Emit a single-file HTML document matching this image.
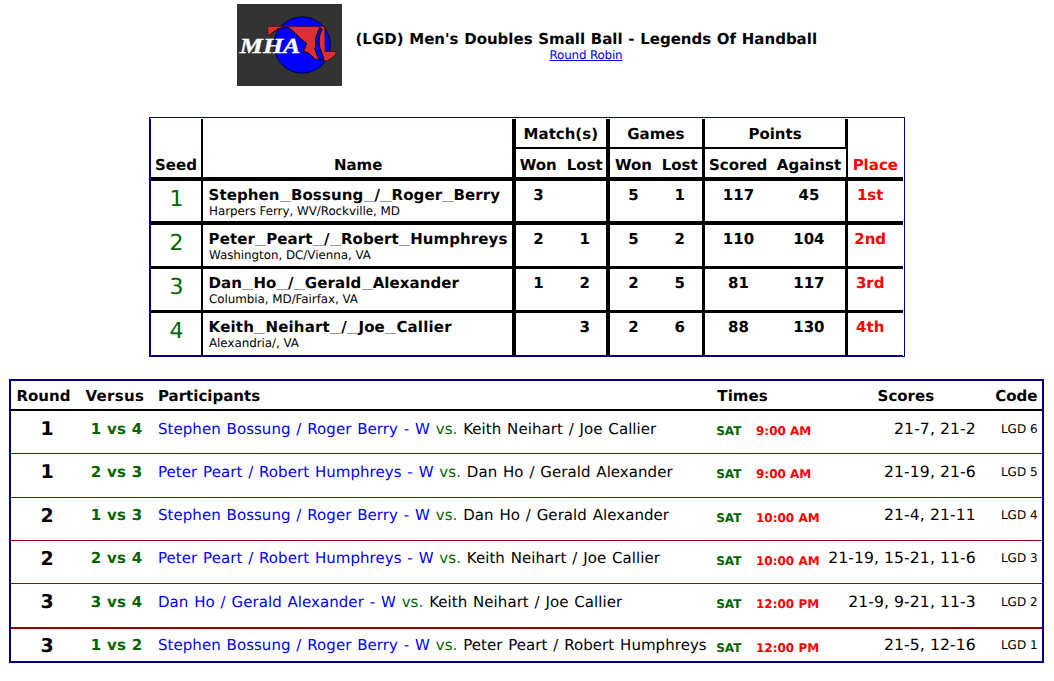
<!DOCTYPE html>
<html><head><meta charset="utf-8"><title>(LGD) Men's Doubles Small Ball - Legends Of Handball</title>
<style>
html,body{margin:0;padding:0;background:#fff;overflow:hidden;}
body{width:1054px;height:681px;position:relative;overflow:hidden;font-family:'DejaVu Sans', 'Liberation Sans', sans-serif;text-rendering:geometricPrecision;}
.b{position:absolute;}
.t{position:absolute;white-space:nowrap;}
.u{display:inline-block;width:11.4px;color:transparent;position:relative;}
.u::after{content:"";position:absolute;left:0.3px;right:0;bottom:1px;height:1px;background:#9a9a9a;}
</style></head><body>
<svg class="b" style="left:237px;top:4px" width="105" height="82" viewBox="0 0 105 82">
<rect x="0" y="0" width="105" height="82" fill="#333333"/>
<circle cx="65.2" cy="41" r="28.2" fill="#0000ff" stroke="#00002a" stroke-width="1"/>
<polygon fill="#dd3035" stroke="#3a0000" stroke-width="0.6" stroke-linejoin="round" points="30.7,22.4 87.6,22.4 88.1,47.5 98.8,47.5 98.7,50.2 94.8,54.1 89.5,57 86.8,56.6 84,55.6 80.4,55.2 77.5,54.6 73.9,51 70.3,48.6 66.3,47.2 67.6,45 68.1,43.4 69.5,39.8 67.4,37.6 64.5,35.5 62.6,33.6 60.9,31.9 58,29 54.4,25.4 50.8,23.2 45.7,23.6 40.7,25 35.7,28.6 31,31.5"/>
<polyline fill="none" stroke="#1a0008" stroke-width="0.9" stroke-linejoin="round" points="35.7,28.6 38,27.2 40.7,25 43,24.6 45.7,23.6 48,23.8 50.8,23.2 52.5,24.6 54.4,25.4 56,27.4 58,29 59.6,30.2 60.9,31.9 62.6,33.6 64.5,35.5 66,36.4 67.4,37.6 68.6,38.4 69.5,39.8 68.4,41.6 68.1,43.4 67.2,45 66.3,47.2 68.4,47.6 70.3,48.6 72,49.6 73.9,51 75.6,52.8 77.5,54.6"/>
<polygon fill="#0000ff" stroke="#14000a" stroke-width="1.1" stroke-linejoin="round" points="83,23.6 85,25.4 83.6,28.5 82.6,31.9 82.2,35 82,37.6 82.4,40.5 82.8,43.4 83.6,46 84.6,48.4 85.6,51 86.3,53.5 86.8,56.4 84.6,56 81.8,54.4 80.6,52.2 79.6,49.9 78.6,47.2 78,44.8 78.6,42.2 79,39.8 78.6,37.2 78.6,34.7 79.2,32.4 80,30.4 81.2,27.6 82,25.2"/>
<text x="2.8" y="48.9" fill="#ffffff" font-family="'Liberation Serif', serif" font-weight="bold" font-style="italic" font-size="21.5" stroke="#ffffff" stroke-width="0.35" textLength="60.6" lengthAdjust="spacingAndGlyphs">MHA</text>
</svg>
<div class="t" style="top:32px;font-size:15px;line-height:15px;color:#000;font-weight:bold;left:355.50px;word-spacing:0.45px;">(LGD) Men's Doubles Small Ball - Legends Of Handball</div>
<div class="t" style="top:50px;font-size:11.9px;line-height:11.9px;color:#000;left:466.00px;width:240px;text-align:center;letter-spacing:-0.17px;"><a href="#" style="color:#0000ee;text-decoration:underline">Round Robin</a></div>
<div class="b" style="left:149px;top:117px;width:756px;height:1px;background:#000080"></div>
<div class="b" style="left:149px;top:117px;width:1px;height:240px;background:#000080"></div>
<div class="b" style="left:150px;top:119px;width:1px;height:237px;background:#000080"></div>
<div class="b" style="left:904px;top:117px;width:1px;height:240px;background:#000080"></div>
<div class="b" style="left:149px;top:356px;width:756px;height:1px;background:#000080"></div>
<div class="b" style="left:150px;top:355px;width:753px;height:1px;background:#000080"></div>
<div class="b" style="left:201px;top:119px;width:2px;height:236px;background:#000"></div>
<div class="b" style="left:512px;top:119px;width:4px;height:236px;background:#000"></div>
<div class="b" style="left:606px;top:119px;width:4px;height:236px;background:#000"></div>
<div class="b" style="left:702px;top:119px;width:3px;height:236px;background:#000"></div>
<div class="b" style="left:845px;top:119px;width:3px;height:30px;background:#000"></div>
<div class="b" style="left:846px;top:149px;width:2px;height:28px;background:#000"></div>
<div class="b" style="left:845px;top:177px;width:3px;height:178px;background:#000"></div>
<div class="b" style="left:516px;top:147px;width:329px;height:2px;background:#000"></div>
<div class="b" style="left:151px;top:177px;width:752px;height:4px;background:#000"></div>
<div class="b" style="left:151px;top:221px;width:752px;height:4px;background:#000"></div>
<div class="b" style="left:151px;top:266px;width:752px;height:3px;background:#000"></div>
<div class="b" style="left:151px;top:310px;width:752px;height:3px;background:#000"></div>
<div class="t" style="top:158px;font-size:15px;line-height:15px;color:#000;font-weight:bold;left:56.00px;width:240px;text-align:center;">Seed</div>
<div class="t" style="top:158px;font-size:15px;line-height:15px;color:#000;font-weight:bold;left:238.20px;width:240px;text-align:center;">Name</div>
<div class="t" style="top:127px;font-size:15px;line-height:15px;color:#000;font-weight:bold;left:440.80px;width:240px;text-align:center;">Match(s)</div>
<div class="t" style="top:127px;font-size:15px;line-height:15px;color:#000;font-weight:bold;left:535.80px;width:240px;text-align:center;">Games</div>
<div class="t" style="top:127px;font-size:15px;line-height:15px;color:#000;font-weight:bold;left:655.00px;width:240px;text-align:center;">Points</div>
<div class="t" style="top:158px;font-size:15px;line-height:15px;color:#000;font-weight:bold;left:418.30px;width:240px;text-align:center;">Won</div>
<div class="t" style="top:158px;font-size:15px;line-height:15px;color:#000;font-weight:bold;left:464.80px;width:240px;text-align:center;">Lost</div>
<div class="t" style="top:158px;font-size:15px;line-height:15px;color:#000;font-weight:bold;left:513.40px;width:240px;text-align:center;">Won</div>
<div class="t" style="top:158px;font-size:15px;line-height:15px;color:#000;font-weight:bold;left:559.70px;width:240px;text-align:center;">Lost</div>
<div class="t" style="top:158px;font-size:15px;line-height:15px;color:#000;font-weight:bold;left:618.20px;width:240px;text-align:center;">Scored</div>
<div class="t" style="top:158px;font-size:15px;line-height:15px;color:#000;font-weight:bold;left:689.00px;width:240px;text-align:center;">Against</div>
<div class="t" style="top:158px;font-size:15px;line-height:15px;color:#ff0000;font-weight:bold;left:755.30px;width:240px;text-align:center;">Place</div>
<div class="t" style="top:189px;font-size:22px;line-height:22px;color:#006400;left:56.60px;width:240px;text-align:center;">1</div>
<div class="t" style="top:188px;font-size:15px;line-height:15px;color:#000;font-weight:bold;left:208.60px;letter-spacing:0.08px;">Stephen<span class="u">_</span>Bossung<span class="u">_</span>/<span class="u">_</span>Roger<span class="u">_</span>Berry</div>
<div class="t" style="top:206px;font-size:11.9px;line-height:11.9px;color:#000;left:209.00px;letter-spacing:-0.04px;">Harpers Ferry, WV/Rockville, MD</div>
<div class="t" style="top:188px;font-size:15px;line-height:15px;color:#000;font-weight:bold;left:418.50px;width:240px;text-align:center;">3</div>
<div class="t" style="top:188px;font-size:15px;line-height:15px;color:#000;font-weight:bold;left:513.40px;width:240px;text-align:center;">5</div>
<div class="t" style="top:188px;font-size:15px;line-height:15px;color:#000;font-weight:bold;left:559.70px;width:240px;text-align:center;">1</div>
<div class="t" style="top:188px;font-size:15px;line-height:15px;color:#000;font-weight:bold;left:618.50px;width:240px;text-align:center;">117</div>
<div class="t" style="top:188px;font-size:15px;line-height:15px;color:#000;font-weight:bold;left:688.90px;width:240px;text-align:center;">45</div>
<div class="t" style="top:188px;font-size:15px;line-height:15px;color:#ff0000;font-weight:bold;left:750.20px;width:240px;text-align:center;">1st</div>
<div class="t" style="top:233px;font-size:22px;line-height:22px;color:#006400;left:56.60px;width:240px;text-align:center;">2</div>
<div class="t" style="top:232px;font-size:15px;line-height:15px;color:#000;font-weight:bold;left:208.60px;letter-spacing:0.08px;">Peter<span class="u">_</span>Peart<span class="u">_</span>/<span class="u">_</span>Robert<span class="u">_</span>Humphreys</div>
<div class="t" style="top:250px;font-size:11.9px;line-height:11.9px;color:#000;left:209.00px;letter-spacing:-0.04px;">Washington, DC/Vienna, VA</div>
<div class="t" style="top:232px;font-size:15px;line-height:15px;color:#000;font-weight:bold;left:418.50px;width:240px;text-align:center;">2</div>
<div class="t" style="top:232px;font-size:15px;line-height:15px;color:#000;font-weight:bold;left:464.60px;width:240px;text-align:center;">1</div>
<div class="t" style="top:232px;font-size:15px;line-height:15px;color:#000;font-weight:bold;left:513.40px;width:240px;text-align:center;">5</div>
<div class="t" style="top:232px;font-size:15px;line-height:15px;color:#000;font-weight:bold;left:559.70px;width:240px;text-align:center;">2</div>
<div class="t" style="top:232px;font-size:15px;line-height:15px;color:#000;font-weight:bold;left:618.50px;width:240px;text-align:center;">110</div>
<div class="t" style="top:232px;font-size:15px;line-height:15px;color:#000;font-weight:bold;left:688.90px;width:240px;text-align:center;">104</div>
<div class="t" style="top:232px;font-size:15px;line-height:15px;color:#ff0000;font-weight:bold;left:750.20px;width:240px;text-align:center;">2nd</div>
<div class="t" style="top:277px;font-size:22px;line-height:22px;color:#006400;left:56.60px;width:240px;text-align:center;">3</div>
<div class="t" style="top:276px;font-size:15px;line-height:15px;color:#000;font-weight:bold;left:208.60px;letter-spacing:0.08px;">Dan<span class="u">_</span>Ho<span class="u">_</span>/<span class="u">_</span>Gerald<span class="u">_</span>Alexander</div>
<div class="t" style="top:294px;font-size:11.9px;line-height:11.9px;color:#000;left:209.00px;letter-spacing:-0.04px;">Columbia, MD/Fairfax, VA</div>
<div class="t" style="top:276px;font-size:15px;line-height:15px;color:#000;font-weight:bold;left:418.50px;width:240px;text-align:center;">1</div>
<div class="t" style="top:276px;font-size:15px;line-height:15px;color:#000;font-weight:bold;left:464.60px;width:240px;text-align:center;">2</div>
<div class="t" style="top:276px;font-size:15px;line-height:15px;color:#000;font-weight:bold;left:513.40px;width:240px;text-align:center;">2</div>
<div class="t" style="top:276px;font-size:15px;line-height:15px;color:#000;font-weight:bold;left:559.70px;width:240px;text-align:center;">5</div>
<div class="t" style="top:276px;font-size:15px;line-height:15px;color:#000;font-weight:bold;left:618.50px;width:240px;text-align:center;">81</div>
<div class="t" style="top:276px;font-size:15px;line-height:15px;color:#000;font-weight:bold;left:688.90px;width:240px;text-align:center;">117</div>
<div class="t" style="top:276px;font-size:15px;line-height:15px;color:#ff0000;font-weight:bold;left:750.20px;width:240px;text-align:center;">3rd</div>
<div class="t" style="top:321px;font-size:22px;line-height:22px;color:#006400;left:56.60px;width:240px;text-align:center;">4</div>
<div class="t" style="top:320px;font-size:15px;line-height:15px;color:#000;font-weight:bold;left:208.60px;letter-spacing:0.18px;">Keith<span class="u">_</span>Neihart<span class="u">_</span>/<span class="u">_</span>Joe<span class="u">_</span>Callier</div>
<div class="t" style="top:338px;font-size:11.9px;line-height:11.9px;color:#000;left:209.00px;letter-spacing:-0.04px;">Alexandria/, VA</div>
<div class="t" style="top:320px;font-size:15px;line-height:15px;color:#000;font-weight:bold;left:464.60px;width:240px;text-align:center;">3</div>
<div class="t" style="top:320px;font-size:15px;line-height:15px;color:#000;font-weight:bold;left:513.40px;width:240px;text-align:center;">2</div>
<div class="t" style="top:320px;font-size:15px;line-height:15px;color:#000;font-weight:bold;left:559.70px;width:240px;text-align:center;">6</div>
<div class="t" style="top:320px;font-size:15px;line-height:15px;color:#000;font-weight:bold;left:618.50px;width:240px;text-align:center;">88</div>
<div class="t" style="top:320px;font-size:15px;line-height:15px;color:#000;font-weight:bold;left:688.90px;width:240px;text-align:center;">130</div>
<div class="t" style="top:320px;font-size:15px;line-height:15px;color:#ff0000;font-weight:bold;left:750.20px;width:240px;text-align:center;">4th</div>
<div class="b" style="left:9px;top:379px;width:1035px;height:2px;background:#000080"></div>
<div class="b" style="left:9px;top:661px;width:1035px;height:2px;background:#000080"></div>
<div class="b" style="left:9px;top:379px;width:2px;height:284px;background:#000080"></div>
<div class="b" style="left:1042px;top:379px;width:2px;height:284px;background:#000080"></div>
<div class="b" style="left:11px;top:409px;width:1031px;height:2px;background:#000"></div>
<div class="b" style="left:11px;top:453px;width:1031px;height:1px;background:#990000"></div>
<div class="b" style="left:11px;top:497px;width:1031px;height:1px;background:#990000"></div>
<div class="b" style="left:11px;top:540px;width:1031px;height:1px;background:#990000"></div>
<div class="b" style="left:11px;top:583px;width:1031px;height:1px;background:#990000"></div>
<div class="b" style="left:11px;top:627px;width:1031px;height:2px;background:#990000"></div>
<div class="t" style="top:389px;font-size:15px;line-height:15px;color:#000;font-weight:bold;left:16.50px;">Round</div>
<div class="t" style="top:389px;font-size:15px;line-height:15px;color:#000;font-weight:bold;left:85.40px;letter-spacing:0.35px;">Versus</div>
<div class="t" style="top:389px;font-size:15px;line-height:15px;color:#000;font-weight:bold;left:158.00px;">Participants</div>
<div class="t" style="top:389px;font-size:15px;line-height:15px;color:#000;font-weight:bold;left:717.30px;letter-spacing:0.1px;">Times</div>
<div class="t" style="top:389px;font-size:15px;line-height:15px;color:#000;font-weight:bold;left:877.60px;">Scores</div>
<div class="t" style="top:389px;font-size:15px;line-height:15px;color:#000;font-weight:bold;left:797.50px;width:240px;text-align:right;">Code</div>
<div class="t" style="top:420px;font-size:19px;line-height:19px;color:#000;font-weight:bold;left:-73.00px;width:240px;text-align:center;">1</div>
<div class="t" style="top:422px;font-size:15px;line-height:15px;color:#006400;font-weight:bold;left:-97.40px;width:240px;text-align:right;letter-spacing:0.3px;">1 vs 4</div>
<div class="t" style="top:422px;font-size:15px;line-height:15px;color:#000;left:158.00px;word-spacing:1px;letter-spacing:0.05px;"><span style="color:#0000ff">Stephen Bossung / Roger Berry - W</span> <span style="color:#006400">vs.</span> Keith Neihart / Joe Callier</div>
<div class="t" style="top:425px;font-size:12px;line-height:12px;color:#006400;font-weight:bold;left:716.20px;">SAT</div>
<div class="t" style="top:425px;font-size:12px;line-height:12px;color:#ff0000;font-weight:bold;left:756.00px;">9:00 AM</div>
<div class="t" style="top:422px;font-size:15.6px;line-height:15.6px;color:#000;left:735.80px;width:240px;text-align:right;letter-spacing:0.1px;">21-7, 21-2</div>
<div class="t" style="top:423px;font-size:12px;line-height:12px;color:#000;left:797.60px;width:240px;text-align:right;">LGD 6</div>
<div class="t" style="top:463px;font-size:19px;line-height:19px;color:#000;font-weight:bold;left:-73.00px;width:240px;text-align:center;">1</div>
<div class="t" style="top:465px;font-size:15px;line-height:15px;color:#006400;font-weight:bold;left:-97.40px;width:240px;text-align:right;letter-spacing:0.3px;">2 vs 3</div>
<div class="t" style="top:465px;font-size:15px;line-height:15px;color:#000;left:158.00px;word-spacing:1px;letter-spacing:0.05px;"><span style="color:#0000ff">Peter Peart / Robert Humphreys - W</span> <span style="color:#006400">vs.</span> Dan Ho / Gerald Alexander</div>
<div class="t" style="top:468px;font-size:12px;line-height:12px;color:#006400;font-weight:bold;left:716.20px;">SAT</div>
<div class="t" style="top:468px;font-size:12px;line-height:12px;color:#ff0000;font-weight:bold;left:756.00px;">9:00 AM</div>
<div class="t" style="top:465px;font-size:15.6px;line-height:15.6px;color:#000;left:735.80px;width:240px;text-align:right;letter-spacing:0.1px;">21-19, 21-6</div>
<div class="t" style="top:466px;font-size:12px;line-height:12px;color:#000;left:797.60px;width:240px;text-align:right;">LGD 5</div>
<div class="t" style="top:507px;font-size:19px;line-height:19px;color:#000;font-weight:bold;left:-73.00px;width:240px;text-align:center;">2</div>
<div class="t" style="top:508px;font-size:15px;line-height:15px;color:#006400;font-weight:bold;left:-97.40px;width:240px;text-align:right;letter-spacing:0.3px;">1 vs 3</div>
<div class="t" style="top:508px;font-size:15px;line-height:15px;color:#000;left:158.00px;word-spacing:1px;letter-spacing:0.05px;"><span style="color:#0000ff">Stephen Bossung / Roger Berry - W</span> <span style="color:#006400">vs.</span> Dan Ho / Gerald Alexander</div>
<div class="t" style="top:512px;font-size:12px;line-height:12px;color:#006400;font-weight:bold;left:716.20px;">SAT</div>
<div class="t" style="top:512px;font-size:12px;line-height:12px;color:#ff0000;font-weight:bold;left:756.00px;">10:00 AM</div>
<div class="t" style="top:508px;font-size:15.6px;line-height:15.6px;color:#000;left:735.80px;width:240px;text-align:right;letter-spacing:0.1px;">21-4, 21-11</div>
<div class="t" style="top:509px;font-size:12px;line-height:12px;color:#000;left:797.60px;width:240px;text-align:right;">LGD 4</div>
<div class="t" style="top:550px;font-size:19px;line-height:19px;color:#000;font-weight:bold;left:-73.00px;width:240px;text-align:center;">2</div>
<div class="t" style="top:551px;font-size:15px;line-height:15px;color:#006400;font-weight:bold;left:-97.40px;width:240px;text-align:right;letter-spacing:0.3px;">2 vs 4</div>
<div class="t" style="top:551px;font-size:15px;line-height:15px;color:#000;left:158.00px;word-spacing:1px;letter-spacing:0.05px;"><span style="color:#0000ff">Peter Peart / Robert Humphreys - W</span> <span style="color:#006400">vs.</span> Keith Neihart / Joe Callier</div>
<div class="t" style="top:555px;font-size:12px;line-height:12px;color:#006400;font-weight:bold;left:716.20px;">SAT</div>
<div class="t" style="top:555px;font-size:12px;line-height:12px;color:#ff0000;font-weight:bold;left:756.00px;">10:00 AM</div>
<div class="t" style="top:551px;font-size:15.6px;line-height:15.6px;color:#000;left:735.80px;width:240px;text-align:right;letter-spacing:0.1px;">21-19, 15-21, 11-6</div>
<div class="t" style="top:552px;font-size:12px;line-height:12px;color:#000;left:797.60px;width:240px;text-align:right;">LGD 3</div>
<div class="t" style="top:593px;font-size:19px;line-height:19px;color:#000;font-weight:bold;left:-73.00px;width:240px;text-align:center;">3</div>
<div class="t" style="top:595px;font-size:15px;line-height:15px;color:#006400;font-weight:bold;left:-97.40px;width:240px;text-align:right;letter-spacing:0.3px;">3 vs 4</div>
<div class="t" style="top:595px;font-size:15px;line-height:15px;color:#000;left:158.00px;word-spacing:1px;letter-spacing:0.05px;"><span style="color:#0000ff">Dan Ho / Gerald Alexander - W</span> <span style="color:#006400">vs.</span> Keith Neihart / Joe Callier</div>
<div class="t" style="top:598px;font-size:12px;line-height:12px;color:#006400;font-weight:bold;left:716.20px;">SAT</div>
<div class="t" style="top:598px;font-size:12px;line-height:12px;color:#ff0000;font-weight:bold;left:756.00px;">12:00 PM</div>
<div class="t" style="top:595px;font-size:15.6px;line-height:15.6px;color:#000;left:735.80px;width:240px;text-align:right;letter-spacing:0.1px;">21-9, 9-21, 11-3</div>
<div class="t" style="top:596px;font-size:12px;line-height:12px;color:#000;left:797.60px;width:240px;text-align:right;">LGD 2</div>
<div class="t" style="top:637px;font-size:19px;line-height:19px;color:#000;font-weight:bold;left:-73.00px;width:240px;text-align:center;">3</div>
<div class="t" style="top:638px;font-size:15px;line-height:15px;color:#006400;font-weight:bold;left:-97.40px;width:240px;text-align:right;letter-spacing:0.3px;">1 vs 2</div>
<div class="t" style="top:638px;font-size:15px;line-height:15px;color:#000;left:158.00px;word-spacing:1px;letter-spacing:0.05px;"><span style="color:#0000ff">Stephen Bossung / Roger Berry - W</span> <span style="color:#006400">vs.</span> Peter Peart / Robert Humphreys</div>
<div class="t" style="top:642px;font-size:12px;line-height:12px;color:#006400;font-weight:bold;left:716.20px;">SAT</div>
<div class="t" style="top:642px;font-size:12px;line-height:12px;color:#ff0000;font-weight:bold;left:756.00px;">12:00 PM</div>
<div class="t" style="top:638px;font-size:15.6px;line-height:15.6px;color:#000;left:735.80px;width:240px;text-align:right;letter-spacing:0.1px;">21-5, 12-16</div>
<div class="t" style="top:639px;font-size:12px;line-height:12px;color:#000;left:797.60px;width:240px;text-align:right;">LGD 1</div>
</body></html>
